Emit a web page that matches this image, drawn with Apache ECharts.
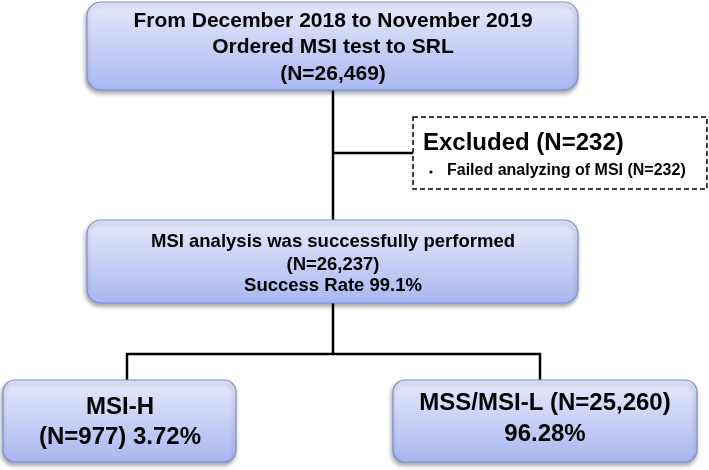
<!DOCTYPE html>
<html><head><meta charset="utf-8">
<script src="https://cdn.jsdelivr.net/npm/echarts@6/dist/echarts.min.js"></script>
<style>html,body{margin:0;padding:0;background:#fff}#c{width:709px;height:470px}</style>
</head><body><div id="c"></div>
<script>
// Text content of the flowchart
const topLines = ["From December 2018 to November 2019", "Ordered MSI test to SRL", "(N=26,469)"];
const excludedTitle = "Excluded (N=232)";
const excludedItems = ["Failed analyzing of MSI (N=232)"];
const midLines = ["MSI analysis was successfully performed", "(N=26,237)", "Success Rate 99.1%"];
const msiHLines = ["MSI-H", "(N=977) 3.72%"];
const mssLines = ["MSS/MSI-L (N=25,260)", "96.28%"];

const chart = echarts.init(document.getElementById('c'), null, {renderer: 'canvas'});
const FONT = 'Liberation Sans, Arial, sans-serif';
const grad = () => new echarts.graphic.LinearGradient(0, 0, 0, 1, [
  {offset: 0, color: '#e7e9fb'}, {offset: 1, color: '#a8b7f1'}]);
function box(x, y, w, h, r) {
  return {type: 'rect', shape: {x, y, width: w, height: h, r},
    style: {fill: grad(), stroke: '#7d90d6', lineWidth: 1.2,
      shadowBlur: 4, shadowOffsetX: -1, shadowOffsetY: 3, shadowColor: 'rgba(0,0,0,0.35)'}};
}
function txt(s, x, y, size, align) {
  return {type: 'text', x, y, style: {text: s, fill: '#000', font: 'bold ' + size + 'px ' + FONT,
    align: align || 'center', verticalAlign: 'middle'}};
}
function line(pts) {
  return {type: 'polyline', shape: {points: pts}, style: {stroke: '#000', lineWidth: 2.5, fill: null}};
}
const els = [];
// connectors
els.push(line([[333, 90], [333, 222]]));
els.push(line([[333, 153], [414, 153]]));
els.push(line([[333, 303], [333, 354]]));
els.push(line([[127, 380], [127, 354], [540, 354], [540, 380]]));
// boxes
els.push(box(87, 2, 491, 88, 14));
els.push(box(87, 220, 491, 83, 14));
els.push(box(3, 380, 233, 82, 12));
els.push(box(393, 380, 304, 82, 12));
els.push({type: 'rect', shape: {x: 413, y: 117, width: 294, height: 72},
  style: {fill: '#fff', stroke: '#000', lineWidth: 1.5, lineDash: [5, 3]}});
// texts
const topY = [21, 47, 74];
topLines.forEach((s, i) => els.push(txt(s, 333, topY[i], 21)));
const midY = [242, 265, 286];
midLines.forEach((s, i) => els.push(txt(s, 333, midY[i], 18.5)));
els.push(txt(excludedTitle, 423, 143, 24, 'left'));
excludedItems.forEach((s, i) => {
  els.push({type: 'circle', shape: {cx: 431, cy: 172 + i * 18, r: 1.6}, style: {fill: '#000'}});
  els.push(txt(s, 447, 171 + i * 18, 16, 'left'));
});
msiHLines.forEach((s, i) => els.push(txt(s, 120, 407 + i * 30, 24)));
mssLines.forEach((s, i) => els.push(txt(s, 545, 403 + i * 31, 24)));

chart.setOption({animation: false, graphic: {elements: els}});
</script></body></html>
